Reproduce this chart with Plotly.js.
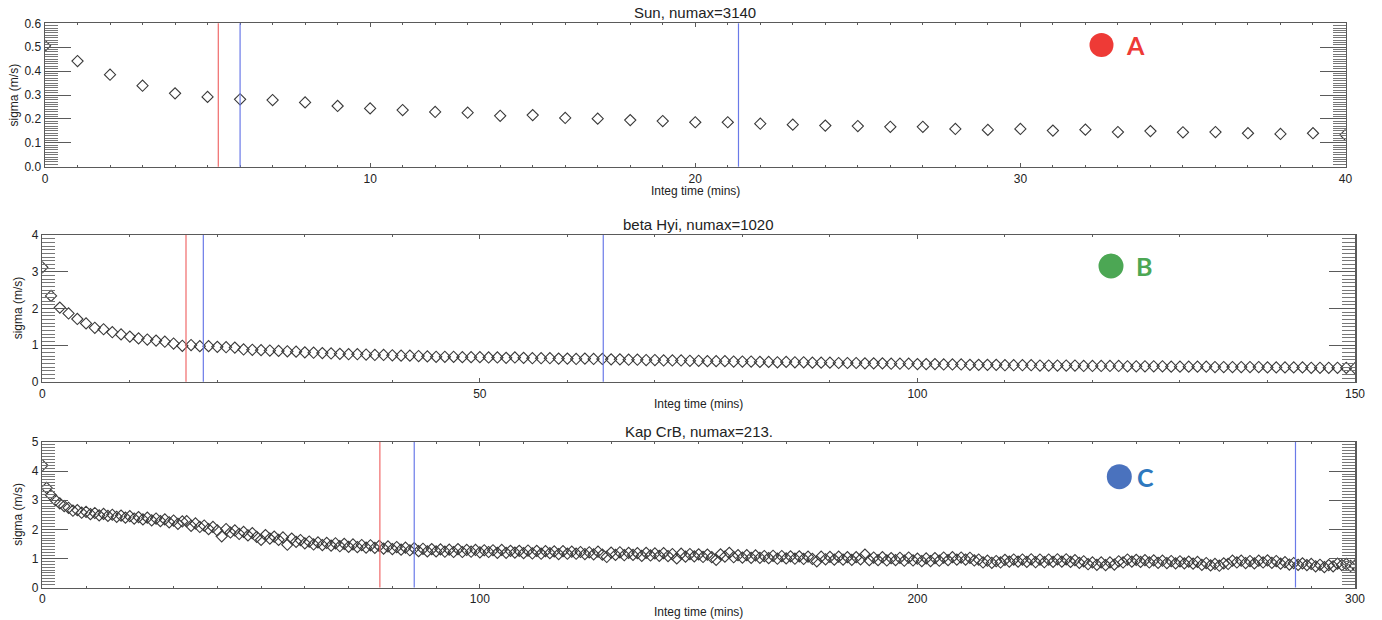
<!DOCTYPE html>
<html>
<head>
<meta charset="utf-8">
<script src="https://cdn.plot.ly/plotly-3.0.1.min.js"></script>
<style>
html,body{margin:0;padding:0;background:#fff;}
#chart{width:1382px;height:620px;}
</style>
</head>
<body>
<div id="chart"></div>
<script>
// ---------------- DATA ----------------
const panelTitles = ["Sun, numax=3140", "beta Hyi, numax=1020", "Kap CrB, numax=213."];
const xAxisLabel = "Integ time (mins)";
const yAxisLabel = "sigma (m/s)";
const panelLetters = ["A", "B", "C"];

// sigma (m/s) per integration time step of 1 minute, starting at 0
const sunSigma = [
  0.506, 0.442, 0.385, 0.339, 0.307, 0.292, 0.282, 0.279, 0.269, 0.254,
  0.244, 0.237, 0.229, 0.226, 0.213, 0.216, 0.204, 0.201, 0.195, 0.191,
  0.186, 0.186, 0.180, 0.176, 0.172, 0.170, 0.167, 0.167, 0.158, 0.154,
  0.158, 0.151, 0.155, 0.145, 0.149, 0.144, 0.145, 0.140, 0.137, 0.140,
  0.133
];

const betaHyiSigma = [
  3.12, 2.34, 2.02, 1.86, 1.71, 1.59, 1.47, 1.43, 1.35, 1.29,
  1.23, 1.18, 1.15, 1.12, 1.09, 1.04, 0.98, 1.00, 0.97, 0.97,
  0.95, 0.94, 0.93, 0.88, 0.87, 0.86, 0.85, 0.84, 0.83, 0.82,
  0.80, 0.79, 0.78, 0.77, 0.76, 0.75, 0.75, 0.74, 0.73, 0.73,
  0.72, 0.71, 0.71, 0.70, 0.69, 0.68, 0.68, 0.68, 0.67, 0.67,
  0.67, 0.66, 0.66, 0.65, 0.66, 0.65, 0.64, 0.64, 0.64, 0.63,
  0.63, 0.62, 0.63, 0.62, 0.62, 0.61, 0.61, 0.60, 0.60, 0.59,
  0.59, 0.58, 0.58, 0.58, 0.57, 0.57, 0.56, 0.56, 0.56, 0.55,
  0.55, 0.55, 0.54, 0.54, 0.53, 0.54, 0.53, 0.53, 0.52, 0.52,
  0.52, 0.51, 0.51, 0.51, 0.50, 0.50, 0.50, 0.49, 0.49, 0.49,
  0.48, 0.48, 0.48, 0.47, 0.47, 0.47, 0.46, 0.46, 0.46, 0.46,
  0.45, 0.45, 0.45, 0.45, 0.44, 0.44, 0.44, 0.44, 0.44, 0.43,
  0.43, 0.43, 0.43, 0.43, 0.42, 0.42, 0.42, 0.42, 0.42, 0.41,
  0.41, 0.41, 0.41, 0.41, 0.40, 0.40, 0.40, 0.40, 0.40, 0.40,
  0.39, 0.39, 0.39, 0.39, 0.39, 0.38, 0.38, 0.38, 0.38, 0.38,
  0.37
];

const kapCrBSigma = [
  4.20, 3.42, 3.17, 3.00, 2.89, 2.80, 2.74, 2.64, 2.66, 2.57,
  2.60, 2.52, 2.56, 2.48, 2.53, 2.46, 2.50, 2.43, 2.47, 2.40,
  2.45, 2.37, 2.42, 2.34, 2.40, 2.31, 2.37, 2.28, 2.34, 2.24,
  2.30, 2.19, 2.27, 2.28, 2.12, 2.20, 2.08, 2.13, 2.01, 2.08,
  1.96, 1.76, 2.01, 1.89, 1.96, 1.84, 1.91, 1.79, 1.87, 1.74,
  1.64, 1.80, 1.68, 1.75, 1.64, 1.72, 1.47, 1.68, 1.57, 1.63,
  1.52, 1.58, 1.48, 1.55, 1.46, 1.53, 1.44, 1.52, 1.42, 1.50,
  1.40, 1.48, 1.39, 1.46, 1.37, 1.45, 1.36, 1.43, 1.34, 1.41,
  1.32, 1.39, 1.30, 1.37, 1.28, 1.35, 1.25, 1.33, 1.24, 1.32,
  1.24, 1.31, 1.23, 1.30, 1.22, 1.32, 1.22, 1.29, 1.23, 1.29,
  1.21, 1.28, 1.22, 1.28, 1.19, 1.29, 1.19, 1.26, 1.20, 1.26,
  1.18, 1.27, 1.17, 1.26, 1.16, 1.25, 1.18, 1.24, 1.15, 1.25,
  1.16, 1.23, 1.16, 1.22, 1.15, 1.21, 1.14, 1.23, 1.13, 1.05,
  1.20, 1.12, 1.21, 1.11, 1.19, 1.12, 1.18, 1.09, 1.19, 1.10,
  1.17, 1.09, 1.18, 1.08, 1.15, 1.00, 1.16, 1.06, 1.15, 1.07,
  1.14, 1.05, 1.13, 1.04, 0.95, 1.14, 1.06, 1.19, 1.04, 1.11,
  1.03, 1.11, 1.02, 1.10, 1.02, 1.08, 1.01, 1.09, 0.99, 1.08,
  1.00, 1.07, 0.99, 1.07, 0.98, 1.06, 0.98, 0.90, 1.06, 0.97,
  1.05, 0.96, 1.06, 0.96, 1.04, 0.95, 1.04, 0.97, 1.13, 0.94,
  1.03, 0.94, 1.04, 0.93, 1.01, 0.94, 1.02, 0.92, 1.03, 0.93,
  0.99, 0.91, 1.00, 0.91, 1.01, 0.92, 1.03, 0.94, 1.04, 0.96,
  1.03, 0.96, 1.02, 0.93, 0.96, 0.86, 0.92, 0.85, 0.91, 0.86,
  0.95, 0.89, 0.96, 0.89, 0.96, 0.88, 0.97, 0.87, 0.96, 0.87,
  0.96, 0.88, 0.97, 0.89, 0.97, 0.88, 0.94, 0.85, 0.90, 0.80,
  0.86, 0.78, 0.86, 0.77, 0.86, 0.79, 0.90, 0.86, 0.96, 0.89,
  0.95, 0.88, 0.94, 0.86, 0.93, 0.85, 0.92, 0.84, 0.91, 0.83,
  0.90, 0.83, 0.89, 0.82, 0.88, 0.78, 0.84, 0.76, 0.81, 0.75,
  0.83, 0.81, 0.92, 0.86, 0.92, 0.84, 0.91, 0.83, 0.92, 0.86,
  0.93, 0.85, 0.91, 0.82, 0.87, 0.79, 0.84, 0.78, 0.83, 0.77,
  0.81, 0.73, 0.78, 0.70, 0.77, 0.73, 0.82, 0.77, 0.81, 0.74,
  0.76
];

// vertical marker lines (integration time, mins)
const sunRedLines = [5.33];
const sunBlueLines = [6.0, 21.33];
const betaHyiRedLines = [16.42];
const betaHyiBlueLines = [18.4, 64.1];
const kapCrBRedLines = [77.15];
const kapCrBBlueLines = [85.0, 286.4];

// axis ranges and tick steps
const xRanges = [[0, 40], [0, 150], [0, 300]];
const xMajor = [10, 50, 100];
const xMinor = [1, 10, 10];
const yRanges = [[0, 0.6], [0, 4], [0, 5]];
const yMajor = [0.1, 1, 1];
const yMinor = [0.01, 0.1, 0.1];
const yFormats = [".1f", "d", "d"];

// ---------------- LAYOUT ----------------
const W = 1382, H = 620;
const FONT = "'Liberation Sans', Arial, Helvetica, sans-serif";
const TEXT = "#222";
const AXC = "#5a5a5a";

const panels = [
  {sigma: sunSigma, red: sunRedLines, blue: sunBlueLines, left: 45, right: 1345.5, top: 23.3, bottom: 166.7, yTitleX: 13.5, xTitleY: 191.5,
   circle: {x: 1101.5, y: 45, r: 12, color: "#ee3a36"}, letter: {x: 1135, y: 45.5, color: "#ee3a36"}},
  {sigma: betaHyiSigma, red: betaHyiRedLines, blue: betaHyiBlueLines, left: 42.3, right: 1355, top: 235, bottom: 381.7, yTitleX: 18, xTitleY: 404,
   circle: {x: 1111, y: 266, r: 12.5, color: "#4ca754"}, letter: {x: 1144, y: 266, color: "#4ca754"}},
  {sigma: kapCrBSigma, red: kapCrBRedLines, blue: kapCrBBlueLines, left: 42.3, right: 1355, top: 442, bottom: 587.5, yTitleX: 18, xTitleY: 611.5,
   circle: {x: 1119.3, y: 476.7, r: 12.5, color: "#4a72be"}, letter: {x: 1145, y: 476.5, color: "#2e78be"}}
];

const traces = [];
const layout = {
  width: W, height: H,
  margin: {l: 0, r: 0, t: 0, b: 0, pad: 0},
  paper_bgcolor: "#fff", plot_bgcolor: "#fff",
  showlegend: false,
  font: {family: FONT, color: TEXT, size: 12},
  shapes: [], annotations: []
};

panels.forEach((p, i) => {
  const n = i === 0 ? "" : String(i + 1);
  const xa = "x" + n, ya = "y" + n;
  const times = p.sigma.map((_, k) => k);
  traces.push({
    type: "scatter", mode: "markers",
    x: times, y: p.sigma,
    xaxis: xa, yaxis: ya,
    cliponaxis: true,
    marker: {symbol: "diamond-open", size: 8.6, color: "#3a3a3a", line: {width: 1.1, color: "#3a3a3a"}},
    hoverinfo: "x+y"
  });
  const xd = [p.left / W, p.right / W];
  const yd = [1 - p.bottom / H, 1 - p.top / H];
  layout["xaxis" + n] = {
    domain: xd, range: xRanges[i], anchor: ya,
    tickmode: "linear", tick0: 0, dtick: xMajor[i],
    ticks: "inside", ticklen: 4, tickwidth: 1, tickcolor: AXC,
    minor: {tickmode: "linear", tick0: 0, dtick: xMinor[i], ticks: "inside", ticklen: 2, tickwidth: 1, tickcolor: AXC, showgrid: false},
    showline: true, linecolor: AXC, linewidth: 1.5, mirror: "ticks",
    showgrid: false, zeroline: false, fixedrange: true,
    tickfont: {family: FONT, size: 12, color: TEXT}
  };
  layout["yaxis" + n] = {
    domain: yd, range: yRanges[i], anchor: xa,
    tickmode: "linear", tick0: 0, dtick: yMajor[i], tickformat: yFormats[i],
    ticks: "inside", ticklen: 26, tickwidth: 1, tickcolor: AXC,
    minor: {tickmode: "linear", tick0: 0, dtick: yMinor[i], ticks: "inside", ticklen: 13, tickwidth: 1, tickcolor: "#777", showgrid: false},
    showline: true, linecolor: AXC, linewidth: 1.5, mirror: "ticks",
    showgrid: false, zeroline: false, fixedrange: true,
    tickfont: {family: FONT, size: 12, color: TEXT}
  };
  p.red.forEach(v => layout.shapes.push({type: "line", xref: xa, yref: ya + " domain", x0: v, x1: v, y0: 0, y1: 1, line: {color: "#f06a6a", width: 1.2}}));
  p.blue.forEach(v => layout.shapes.push({type: "line", xref: xa, yref: ya + " domain", x0: v, x1: v, y0: 0, y1: 1, line: {color: "#6a7ae8", width: 1.2}}));
  // panel letter circle
  layout.shapes.push({type: "circle", xref: "paper", yref: "paper", xsizemode: "pixel", ysizemode: "pixel",
    xanchor: p.circle.x / W, yanchor: 1 - p.circle.y / H,
    x0: -p.circle.r, x1: p.circle.r, y0: -p.circle.r, y1: p.circle.r,
    fillcolor: p.circle.color, line: {width: 0}});
  const cx = (p.left + p.right) / 2;
  layout.annotations.push(
    {xref: "paper", yref: "paper", x: cx / W, y: 1 - (p.top - 10.5) / H, text: panelTitles[i], showarrow: false,
     xanchor: "center", yanchor: "middle", font: {family: FONT, size: 15, color: TEXT}},
    {xref: "paper", yref: "paper", x: cx / W, y: 1 - p.xTitleY / H, text: xAxisLabel, showarrow: false,
     xanchor: "center", yanchor: "middle", font: {family: FONT, size: 12, color: TEXT}},
    {xref: "paper", yref: "paper", x: p.yTitleX / W, y: 1 - (p.top + p.bottom) / 2 / H, text: yAxisLabel, showarrow: false,
     textangle: -90, xanchor: "center", yanchor: "middle", font: {family: FONT, size: 12, color: TEXT}},
    {xref: "paper", yref: "paper", x: p.letter.x / W, y: 1 - p.letter.y / H, text: "<b>" + panelLetters[i] + "</b>", showarrow: false,
     xanchor: "center", yanchor: "middle", font: {family: "Lato, 'Open Sans', sans-serif", size: 25, color: p.letter.color}}
  );
});

Plotly.newPlot("chart", traces, layout, {displayModeBar: false, staticPlot: true});
</script>
</body>
</html>
